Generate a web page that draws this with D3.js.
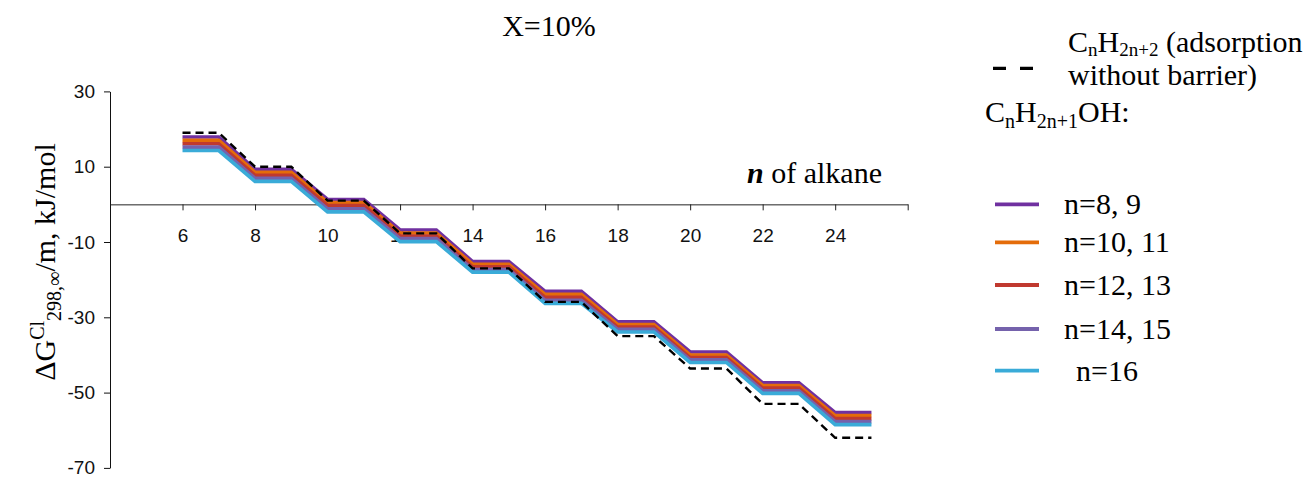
<!DOCTYPE html>
<html>
<head>
<meta charset="utf-8">
<script src="https://cdn.jsdelivr.net/npm/d3@7"></script>
<style>
  body { margin: 0; background: #fff; }
  svg { display: block; }
</style>
</head>
<body>
<svg id="chart" width="1311" height="479"></svg>
<script>
// Carbon number of the alkane
const carbonNumbers = [6, 7, 8, 9, 10, 11, 12, 13, 14, 15, 16, 17, 18, 19, 20, 21, 22, 23, 24, 25];

// ΔG (kJ/mol) per methylene group, alkane adsorption without barrier
const alkaneNoBarrier = [19.0, 19.0, 10.0, 10.0, 1.0, 1.0, -7.7, -7.7, -17.0, -17.0, -25.9, -25.9, -35.0, -35.0, -43.6, -43.6, -53.0, -53.0, -62.0, -62.0];

// ΔG (kJ/mol) for alkanes with alcohol CnH2n+1OH co-adsorbed
const alcohol_n8_9   = [17.9, 17.9, 9.3, 9.3, 1.3, 1.3, -6.8, -6.8, -15.2, -15.2, -23.1, -23.1, -31.2, -31.2, -39.2, -39.2, -47.4, -47.4, -55.3, -55.3];
const alcohol_n10_11 = [17.0, 17.0, 8.5, 8.5, 0.5, 0.5, -7.6, -7.6, -15.9, -15.9, -23.9, -23.9, -31.9, -31.9, -40.0, -40.0, -48.1, -48.1, -56.1, -56.1];
const alcohol_n12_13 = [16.1, 16.1, 7.7, 7.7, -0.3, -0.3, -8.4, -8.4, -16.6, -16.6, -24.7, -24.7, -32.6, -32.6, -40.7, -40.7, -48.8, -48.8, -56.9, -56.9];
const alcohol_n14_15 = [15.2, 15.2, 6.9, 6.9, -1.2, -1.2, -9.1, -9.1, -17.3, -17.3, -25.5, -25.5, -33.2, -33.2, -41.3, -41.3, -49.5, -49.5, -57.7, -57.7];
const alcohol_n16    = [14.3, 14.3, 6.1, 6.1, -2.0, -2.0, -9.9, -9.9, -18.0, -18.0, -26.3, -26.3, -33.9, -33.9, -42.0, -42.0, -50.2, -50.2, -58.5, -58.5];

const alcoholLabels = ["n=8, 9", "n=10, 11", "n=12, 13", "n=14, 15", "n=16"];
const alcoholColors = ["#7030A0", "#E46C0A", "#C0392F", "#7562AC", "#3AABD8"];

const xTickValues = [6, 8, 10, 12, 14, 16, 18, 20, 22, 24, 26];
const xTickLabels = ["6", "8", "10", "12", "14", "16", "18", "20", "22", "24", ""];
const yTickValues = [30, 10, -10, -30, -50, -70];
const yTickLabels = ["30", "10", "-10", "-30", "-50", "-70"];

const svg = d3.select("#chart");
const serif = "'Liberation Serif', 'Times New Roman', serif";
const sans = "'Liberation Sans', Arial, sans-serif";

const x = d3.scaleLinear().domain([4, 26]).range([110, 907.7]);
const y = d3.scaleLinear().domain([-70, 30]).range([467.9, 91.4]);

// y axis on the left
const yAxis = svg.append("g")
  .attr("transform", `translate(${x(4)},0)`)
  .call(d3.axisLeft(y).tickValues(yTickValues).tickSize(6).tickSizeOuter(0).tickPadding(9)
    .tickFormat((d, i) => yTickLabels[i]));
yAxis.selectAll("text").attr("font-family", sans).attr("font-size", 19).attr("fill", "#111");
yAxis.selectAll("line, path").attr("stroke", "#111");

// x axis along ΔG = 0
const xAxis = svg.append("g")
  .attr("transform", `translate(0,${y(0)})`)
  .call(d3.axisBottom(x).tickValues(xTickValues).tickSize(6).tickSizeOuter(0).tickPadding(18)
    .tickFormat((d, i) => xTickLabels[i]));
xAxis.selectAll("text").attr("font-family", sans).attr("font-size", 19).attr("fill", "#111");
xAxis.selectAll("line, path").attr("stroke", "#222");

// staircase lines
const line = d3.line()
  .x((d, i) => x(carbonNumbers[i]))
  .y(d => y(d));

const alcoholSeries = [alcohol_n8_9, alcohol_n10_11, alcohol_n12_13, alcohol_n14_15, alcohol_n16];
const plot = svg.append("g");
alcoholSeries.forEach((vals, k) => {
  plot.append("path")
    .datum(vals)
    .attr("d", line)
    .attr("fill", "none")
    .attr("stroke", alcoholColors[k])
    .attr("stroke-width", 3.6)
    .attr("stroke-linejoin", "miter");
});

plot.append("path")
  .datum(alkaneNoBarrier)
  .attr("d", line)
  .attr("fill", "none")
  .attr("stroke", "#000")
  .attr("stroke-width", 2.4)
  .attr("stroke-dasharray", "8,5");

// title
svg.append("text")
  .attr("x", 549).attr("y", 36)
  .attr("text-anchor", "middle")
  .attr("font-family", serif).attr("font-size", 30)
  .text("X=10%");

// x axis title
const xt = svg.append("text")
  .attr("x", 882).attr("y", 183)
  .attr("text-anchor", "end")
  .attr("font-family", serif).attr("font-size", 30);
xt.append("tspan").attr("font-weight", "bold").attr("font-style", "italic").text("n");
xt.append("tspan").text(" of alkane");

// y axis title
const yt = svg.append("text")
  .attr("transform", "translate(55,262) rotate(-90)")
  .attr("text-anchor", "middle")
  .attr("font-family", serif).attr("font-size", 30);
yt.append("tspan").text("ΔG");
yt.append("tspan").attr("font-size", 20).attr("dy", -11).text("Cl");
yt.append("tspan").attr("font-size", 20).attr("dy", 17).text("298,∞");
yt.append("tspan").attr("dy", -6).text("/m, kJ/mol");

// legend
const legend = svg.append("g");
legend.append("line")
  .attr("x1", 993).attr("x2", 1034).attr("y1", 68.3).attr("y2", 68.3)
  .attr("stroke", "#000").attr("stroke-width", 3.3)
  .attr("stroke-dasharray", "13,14");

// two-line entry for the alkane series
const l1 = legend.append("text")
  .attr("x", 1068).attr("y", 52)
  .attr("font-family", serif).attr("font-size", 30);
l1.append("tspan").text("C");
l1.append("tspan").attr("font-size", 19).attr("dy", 4).text("n");
l1.append("tspan").attr("dy", -4).text("H");
l1.append("tspan").attr("font-size", 19).attr("dy", 4).text("2n+2");
l1.append("tspan").attr("dy", -4).text(" (adsorption");
l1.append("tspan").attr("x", 1068).attr("dy", 33).text("without barrier)");

const l2 = legend.append("text")
  .attr("x", 985).attr("y", 122)
  .attr("font-family", serif).attr("font-size", 30);
l2.append("tspan").text("C");
l2.append("tspan").attr("font-size", 20).attr("dy", 6).text("n");
l2.append("tspan").attr("dy", -6).text("H");
l2.append("tspan").attr("font-size", 20).attr("dy", 6).text("2n+1");
l2.append("tspan").attr("dy", -6).text("OH:");

const legendRows = [204.3, 242.3, 285, 329, 370.7];
alcoholLabels.forEach((lab, k) => {
  legend.append("line")
    .attr("x1", 995).attr("x2", 1039)
    .attr("y1", legendRows[k]).attr("y2", legendRows[k])
    .attr("stroke", alcoholColors[k]).attr("stroke-width", 3.8);
  legend.append("text")
    .attr("x", k === 4 ? 1076 : 1064).attr("y", legendRows[k] + 10)
    .attr("font-family", serif).attr("font-size", 30)
    .text(lab);
});
</script>
</body>
</html>
